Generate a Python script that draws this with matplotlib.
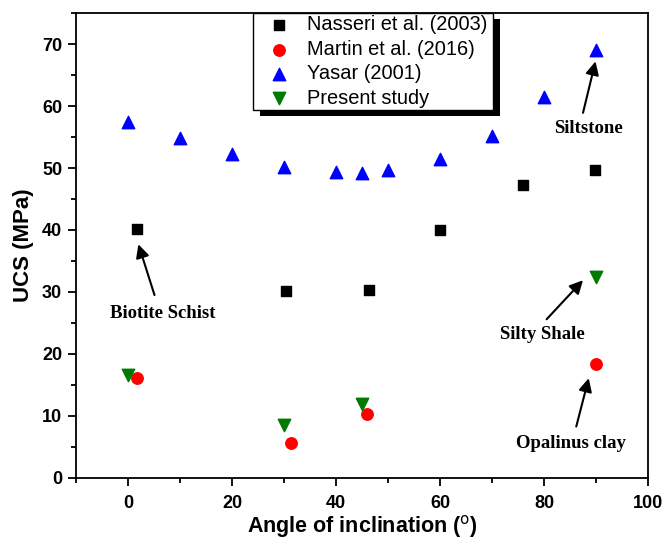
import matplotlib
matplotlib.use("Agg")
import matplotlib.pyplot as plt
from matplotlib.patches import Rectangle

# Data
nasseri_x = [1.7, 30.4, 46.4, 60, 76, 89.8]
nasseri_y = [40.1, 30.2, 30.4, 40.0, 47.3, 49.7]
martin_x = [1.7, 31.3, 45.9, 90]
martin_y = [16.1, 5.6, 10.4, 18.4]
yasar_x = [0, 10, 20, 30, 40, 45, 50, 60, 70, 80, 90]
yasar_y = [57.5, 54.8, 52.3, 50.2, 49.4, 49.2, 49.6, 51.4, 55.2, 61.5, 69.0]
present_x = [0, 30, 45, 90]
present_y = [16.6, 8.5, 11.9, 32.4]

labels = ["Nasseri et al. (2003)", "Martin et al. (2016)", "Yasar (2001)", "Present study"]

plt.rcParams['font.family'] = ['Liberation Sans', 'DejaVu Sans']

fig = plt.figure(figsize=(6.66, 5.42), dpi=100)
ax = fig.add_axes([0.1141, 0.1181, 0.8589, 0.8579])

ax.scatter(nasseri_x, nasseri_y, marker='s', s=52, color='black', label=labels[0], zorder=3)
ax.scatter(martin_x, martin_y, marker='o', s=68, color='#ff0000', label=labels[1], zorder=3)
ax.scatter(yasar_x, yasar_y, marker='^', s=80, color='#0000ff', label=labels[2], zorder=3)
ax.scatter(present_x, present_y, marker='v', s=80, color='#007a00', label=labels[3], zorder=3)

ax.set_xlim(-10, 100)
ax.set_ylim(0, 75)
ax.set_xticks(range(0, 101, 20))
ax.set_xticks(range(-10, 101, 10), minor=True)
ax.set_yticks(range(0, 71, 10))
ax.set_yticks(range(0, 76, 5), minor=True)
ax.tick_params(which='major', direction='out', length=6, width=1.3, labelsize=13, pad=4)
ax.tick_params(axis='x', which='major', pad=6)
ax.tick_params(which='minor', direction='out', length=3.5, width=1.3)
for lab in ax.get_xticklabels() + ax.get_yticklabels():
    lab.set_fontweight('bold')
for sp in ax.spines.values():
    sp.set_linewidth(1.3)

ax.set_xlabel("Angle of inclination ($^{\\rm o}$)", fontsize=15.5, fontweight='bold', labelpad=1)
ax.set_ylabel("UCS (MPa)", fontsize=16, fontweight='bold', labelpad=6)

serif = dict(family=['Liberation Serif', 'DejaVu Serif'], fontweight='bold', fontsize=13.5)
arrowp = dict(arrowstyle='-|>', color='black', lw=1.5, mutation_scale=20, shrinkA=0, shrinkB=0)
ax.annotate("", xy=(2.0, 37.7), xytext=(5.1, 29.5), arrowprops=arrowp)
ax.text(6.7, 26.6, "Biotite Schist", ha='center', va='center', **serif)
ax.annotate("", xy=(89.9, 67.2), xytext=(87.5, 58.9), arrowprops=arrowp)
ax.text(88.5, 56.4, "Siltstone", ha='center', va='center', **serif)
ax.annotate("", xy=(87.5, 31.9), xytext=(80.5, 25.6), arrowprops=arrowp)
ax.text(79.6, 23.2, "Silty Shale", ha='center', va='center', **serif)
ax.annotate("", xy=(88.6, 16.1), xytext=(86.2, 8.3), arrowprops=arrowp)
ax.text(85.2, 5.6, "Opalinus clay", ha='center', va='center', **serif)

leg = ax.legend(loc='upper left', bbox_to_anchor=(0.3094, 0.0, 0.4196, 1.0), mode='expand',
                fontsize=14.4, frameon=True, fancybox=False, edgecolor='black', framealpha=1,
                borderpad=0.12, labelspacing=0.27, handletextpad=0.2, handlelength=2.4,
                borderaxespad=0)
leg.get_frame().set_linewidth(1.0)
leg.set_zorder(6)

fig.canvas.draw()
bb = leg.get_window_extent()
inv = ax.transAxes.inverted()
(x0, y0), (x1, y1) = inv.transform([(bb.x0 + 7, bb.y0 - 6), (bb.x1 + 7, bb.y1 - 6)])
shadow = Rectangle((x0, y0), x1 - x0, y1 - y0, transform=ax.transAxes,
                   facecolor='black', edgecolor='none', zorder=5, clip_on=False)
ax.add_patch(shadow)

fig.savefig("out.png", dpi=100)
